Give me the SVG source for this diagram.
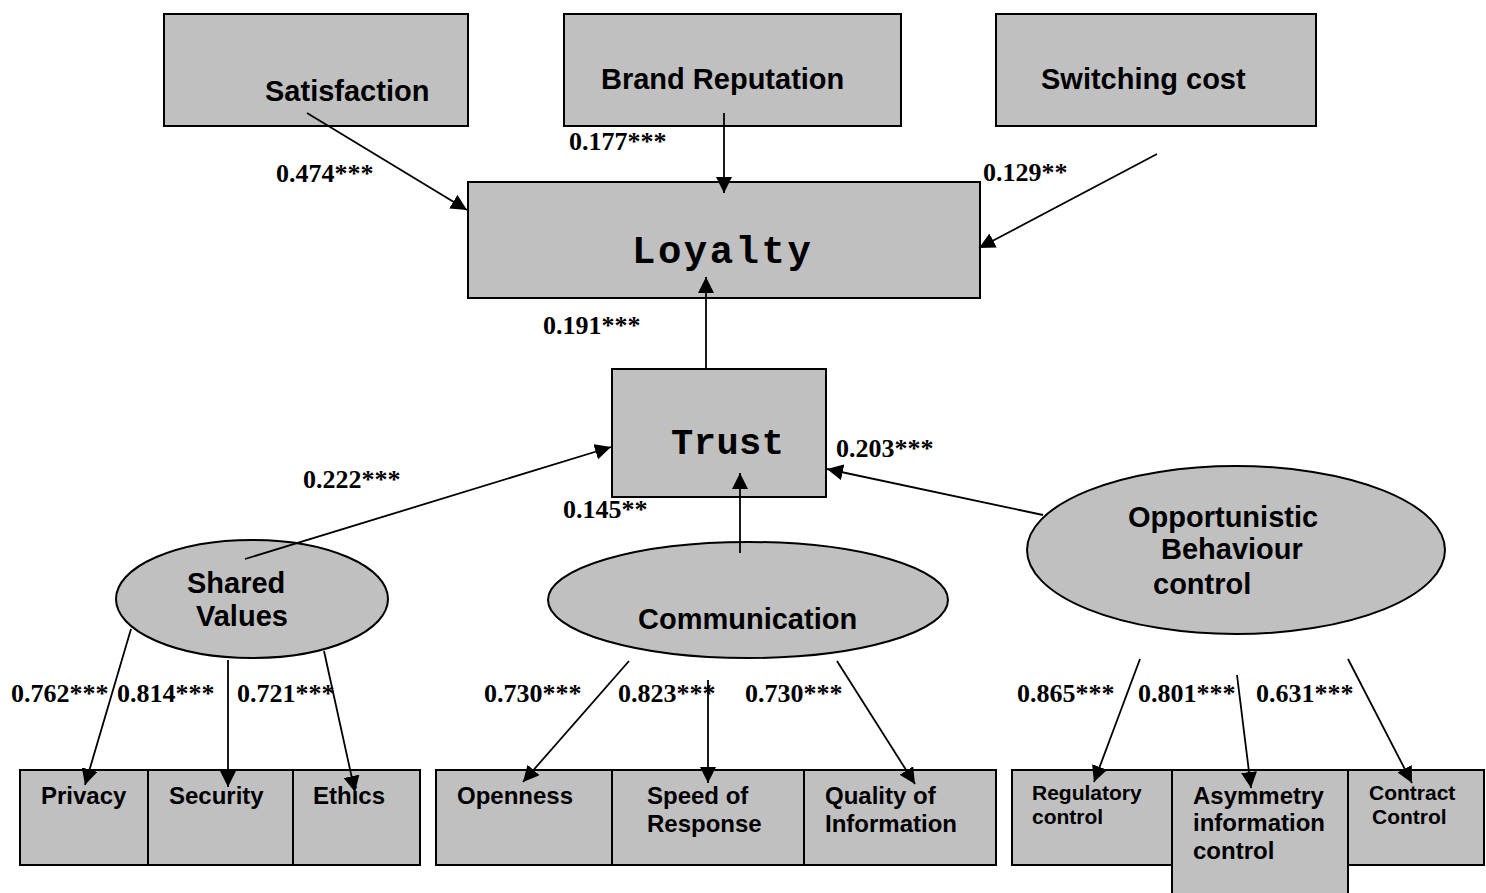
<svg xmlns="http://www.w3.org/2000/svg" width="1486" height="893" viewBox="0 0 1486 893">
<style>
.box{fill:#c0c0c0;stroke:#000;stroke-width:2}
.lbl{font-family:"Liberation Sans",Arial,sans-serif;font-weight:bold;font-size:29px;fill:#000}
.sm{font-family:"Liberation Sans",Arial,sans-serif;font-weight:bold;font-size:24px;fill:#000}
.xs{font-family:"Liberation Sans",Arial,sans-serif;font-weight:bold;font-size:21px;fill:#000}
.mono{font-family:"Liberation Mono","Courier New",monospace;font-weight:bold;fill:#000}
.coef{font-family:"Liberation Serif","Times New Roman",serif;font-weight:bold;font-size:26px;fill:#000}
.edge{stroke:#000;stroke-width:1.8;fill:none;marker-end:url(#ah)}
</style>
<defs>
<marker id="ah" markerUnits="userSpaceOnUse" markerWidth="16" markerHeight="16" refX="16" refY="8" orient="auto">
<path d="M0,0 L16,8 L0,16 z" fill="#000"/>
</marker>
</defs>
<rect width="1486" height="893" fill="#fff"/>

<g id="satisfaction"><rect class="box" x="164" y="14" width="304" height="112"/><text class="lbl" x="265" y="101">Satisfaction</text></g>
<g id="brand-reputation"><rect class="box" x="564" y="14" width="337" height="112"/><text class="lbl" x="601" y="89">Brand Reputation</text></g>
<g id="switching-cost"><rect class="box" x="996" y="14" width="320" height="112"/><text class="lbl" x="1041" y="89">Switching cost</text></g>
<g id="loyalty"><rect class="box" x="468" y="182" width="512" height="116"/><text class="mono" x="632" y="263" font-size="39" letter-spacing="2.5">Loyalty</text></g>
<g id="trust"><rect class="box" x="612" y="369" width="214" height="128"/><text class="mono" x="671" y="454" font-size="37" letter-spacing="0.5">Trust</text></g>

<g id="shared-values"><ellipse class="box" cx="252" cy="599" rx="136" ry="59"/><text class="lbl" x="187" y="593">Shared</text><text class="lbl" x="196" y="626">Values</text></g>
<g id="communication"><ellipse class="box" cx="748" cy="600" rx="200" ry="58"/><text class="lbl" x="638" y="629">Communication</text></g>
<g id="opportunistic"><ellipse class="box" cx="1236" cy="550" rx="209" ry="84"/><text class="lbl" x="1128" y="527">Opportunistic</text><text class="lbl" x="1161" y="559">Behaviour</text><text class="lbl" x="1153" y="594">control</text></g>

<g id="privacy"><rect class="box" x="20" y="770" width="128" height="95"/><text class="sm" x="41" y="804">Privacy</text></g>
<g id="security"><rect class="box" x="148" y="770" width="145" height="95"/><text class="sm" x="169" y="804">Security</text></g>
<g id="ethics"><rect class="box" x="293" y="770" width="127" height="95"/><text class="sm" x="313" y="804">Ethics</text></g>

<g id="openness"><rect class="box" x="436" y="770" width="176" height="95"/><text class="sm" x="457" y="804">Openness</text></g>
<g id="speed"><rect class="box" x="612" y="770" width="192" height="95"/><text class="sm" x="647" y="804">Speed of</text><text class="sm" x="647" y="832">Response</text></g>
<g id="quality"><rect class="box" x="804" y="770" width="192" height="95"/><text class="sm" x="825" y="804">Quality of</text><text class="sm" x="825" y="832">Information</text></g>

<g id="regulatory"><rect class="box" x="1012" y="770" width="160" height="95"/><text class="xs" x="1032" y="800">Regulatory</text><text class="xs" x="1032" y="824">control</text></g>
<g id="asymmetry"><rect class="box" x="1172" y="770" width="176" height="130"/><text class="sm" x="1193" y="804">Asymmetry</text><text class="sm" x="1193" y="831">information</text><text class="sm" x="1193" y="859">control</text></g>
<g id="contract"><rect class="box" x="1348" y="770" width="136" height="95"/><text class="xs" x="1369" y="800">Contract</text><text class="xs" x="1372" y="824">Control</text></g>

<g id="connectors">
<line class="edge" x1="307" y1="113" x2="467" y2="210"/>
<line class="edge" x1="724" y1="113" x2="724" y2="193"/>
<line class="edge" x1="1157" y1="154" x2="979" y2="248"/>
<line class="edge" x1="706" y1="369" x2="706" y2="277"/>
<line class="edge" x1="245" y1="559" x2="611" y2="447"/>
<line class="edge" x1="740" y1="553" x2="740" y2="473"/>
<line class="edge" x1="1043" y1="515" x2="827" y2="469"/>
<line class="edge" x1="131" y1="629" x2="85" y2="785"/>
<line class="edge" x1="228" y1="660" x2="228" y2="787"/>
<line class="edge" x1="324" y1="651" x2="355" y2="792"/>
<line class="edge" x1="629" y1="661" x2="523" y2="782"/>
<line class="edge" x1="708" y1="680" x2="708" y2="783"/>
<line class="edge" x1="837" y1="661" x2="915" y2="784"/>
<line class="edge" x1="1140" y1="659" x2="1094" y2="782"/>
<line class="edge" x1="1237" y1="675" x2="1251" y2="788"/>
<line class="edge" x1="1348" y1="659" x2="1412" y2="783"/>
</g>

<g id="coefficients">
<text class="coef" x="276" y="182">0.474***</text>
<text class="coef" x="569" y="150">0.177***</text>
<text class="coef" x="983" y="181">0.129**</text>
<text class="coef" x="543" y="334">0.191***</text>
<text class="coef" x="303" y="488">0.222***</text>
<text class="coef" x="563" y="518">0.145**</text>
<text class="coef" x="836" y="457">0.203***</text>
<text class="coef" x="11" y="702">0.762***</text>
<text class="coef" x="117" y="702">0.814***</text>
<text class="coef" x="237" y="702">0.721***</text>
<text class="coef" x="484" y="702">0.730***</text>
<text class="coef" x="618" y="702">0.823***</text>
<text class="coef" x="745" y="702">0.730***</text>
<text class="coef" x="1017" y="702">0.865***</text>
<text class="coef" x="1138" y="702">0.801***</text>
<text class="coef" x="1256" y="702">0.631***</text>
</g>
</svg>
